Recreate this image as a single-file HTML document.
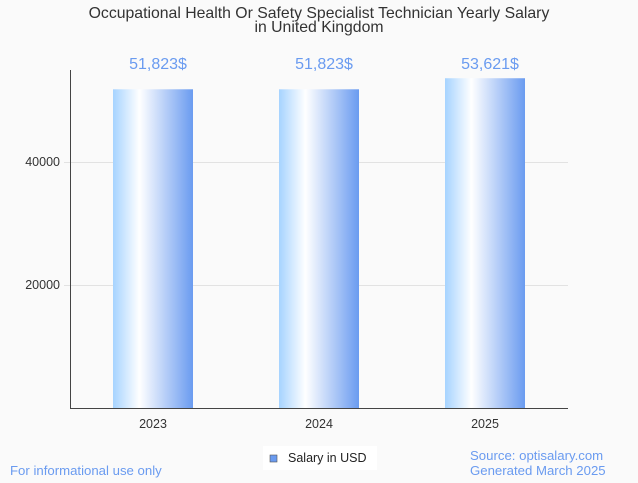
<!DOCTYPE html>
<html><head><meta charset="utf-8"><style>
body{margin:0;background:#fafafa;width:638px;height:478px;overflow:hidden;font-family:"Liberation Sans",sans-serif}
</style></head><body>
<svg width="638" height="478" xmlns="http://www.w3.org/2000/svg">
<defs><linearGradient id="g" x1="0" x2="1" y1="0" y2="0">
<stop offset="0" stop-color="#a6d3ff"/><stop offset="0.33" stop-color="#ffffff"/><stop offset="1" stop-color="#6a9bf0"/></linearGradient></defs>
<text x="319" y="18" text-anchor="middle" font-size="15.8" fill="#333">Occupational Health Or Safety Specialist Technician Yearly Salary</text>
<text x="319" y="32" text-anchor="middle" font-size="15.8" fill="#333">in United Kingdom</text>
<g id="grid"></g>
<g id="bars"></g>
<line x1="70.5" y1="70" x2="70.5" y2="408" stroke="#444"/>
<line x1="70" y1="408.5" x2="568" y2="408.5" stroke="#444"/>
<rect x="263" y="446" width="114" height="24" fill="#fff"/>
<rect x="270" y="455" width="7" height="7" fill="#6a9bf0" stroke="#555" stroke-width="0.6"/>
<text x="288" y="462" font-size="12.5" fill="#222">Salary in USD</text>
<text x="10" y="475" font-size="13.2" fill="#6a9bf0">For informational use only</text>
<text x="470" y="460" font-size="13.2" fill="#6a9bf0">Source: optisalary.com</text>
<text x="470" y="475" font-size="13.2" fill="#6a9bf0">Generated March 2025</text>
</svg>
<script>
const categories=["2023","2024","2025"];
const values=[51823,51823,53621];
const valueLabels=["51,823$","51,823$","53,621$"];
const yTicks=[20000,40000];
const ns="http://www.w3.org/2000/svg";
const y=v=>408-v*123/20000;
const x=i=>153+i*166;
const grid=document.getElementById('grid'),bars=document.getElementById('bars');
function mk(t,a,p){const e=document.createElementNS(ns,t);for(const k in a)e.setAttribute(k,a[k]);p.appendChild(e);return e;}
yTicks.forEach(t=>{
 const l=mk('line',{x1:64,x2:568,y1:y(t)+0.5,y2:y(t)+0.5,stroke:'#e2e2e2'},grid);
 
 
 const tx=mk('text',{x:60,y:y(t)+4,'text-anchor':'end','font-size':12.5,fill:'#333'},grid);
 tx.textContent=t;
 
 
});
categories.forEach((c,i)=>{
 const r=mk('rect',{x:x(i)-40,y:y(values[i]),width:80,height:408-y(values[i]),fill:'url(#g)'},bars);
 
 
 const v=mk('text',{x:x(i)+5,y:69,'text-anchor':'middle','font-size':16,fill:'#6a9bf0'},bars);
 v.textContent=valueLabels[i];
 
 
 const t=mk('text',{x:x(i),y:428,'text-anchor':'middle','font-size':12.5,fill:'#333'},bars);
 t.textContent=c;
 
 
});
</script>
</body></html>
